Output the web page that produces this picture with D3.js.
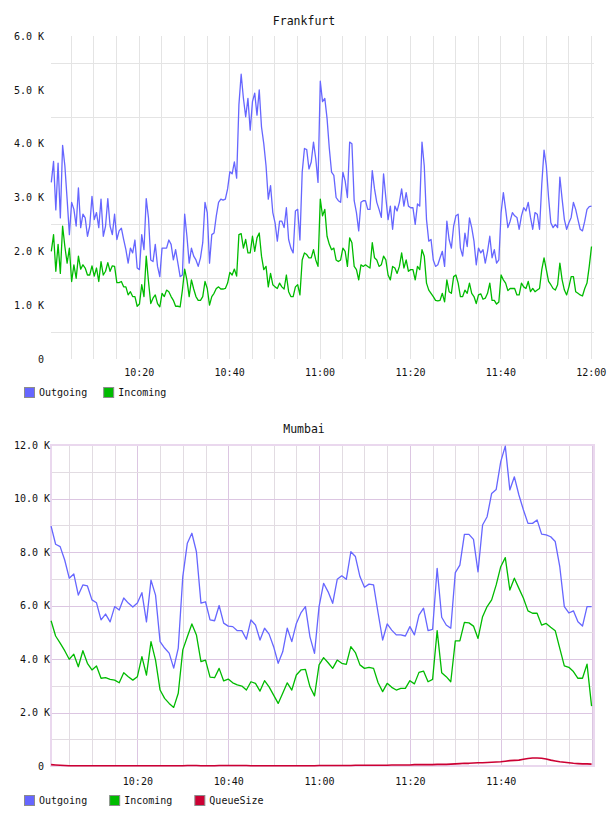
<!DOCTYPE html>
<html>
<head>
<meta charset="utf-8">
<script src="https://cdn.jsdelivr.net/npm/d3@7"></script>
<style>
body { margin: 0; background: #fff; }
text { font-family: "DejaVu Sans Mono", monospace; font-size: 10px; fill: #111; }
.title { font-size: 11.5px; }
</style>
</head>
<body>
<script>
// values are in thousands (K)
var fraStart = "10:00:40", fraStepSec = 30;
var fraOutgoing = [
  3.28, 3.67, 2.77, 3.64, 2.62, 3.97, 3.59, 2.97, 2.31, 2.91, 2.78, 2.47, 3.18, 2.44, 2.69, 2.62, 2.28, 2.47, 3.02, 2.59,
  2.72, 2.44, 2.97, 2.28, 2.47, 2.98, 2.47, 2.31, 2.69, 2.22, 2.38, 2.43, 2.22, 2.03, 1.78, 2.06, 1.97, 2.21, 1.69, 1.66,
  2.31, 2.03, 2.98, 2.62, 1.84, 1.81, 2.13, 1.72, 1.53, 2.06, 2.06, 2.06, 2.21, 2.13, 1.84, 2.03, 1.78, 1.53, 1.56, 2.69,
  2.28, 1.78,
  2.06, 1.91, 1.84, 1.72, 1.88, 2.16, 2.91, 2.72, 1.78, 2.31, 2.34, 2.66, 2.91, 2.97, 2.95, 2.97, 3.16, 3.48, 3.44, 3.66,
  3.36, 4.72, 5.29, 4.84, 4.5, 4.84, 4.25, 4.78, 4.94, 4.53, 5.0, 4.31, 4.0, 3.59, 2.97, 3.22, 2.72, 2.53, 2.19, 2.56,
  2.56, 2.44, 2.81, 2.22, 2.06, 1.97, 2.75, 2.78, 2.21, 3.47, 3.91, 3.89, 3.53, 3.66, 4.03, 3.72, 3.28, 5.16, 4.78, 4.84,
  4.47,
  3.91, 3.47, 3.41, 3.0, 2.94, 2.91, 3.47, 3.31, 3.0, 4.03, 4.0, 2.94, 2.72, 2.38, 2.91, 2.94, 2.94, 2.78, 2.78, 3.5,
  3.16, 2.91, 2.78, 2.63, 3.44, 3.0, 2.59, 2.84, 2.41, 2.84, 2.75, 2.91, 3.16, 2.84, 3.09, 2.84, 2.81, 2.81, 2.5, 2.88,
  2.84, 4.03, 3.59, 2.59, 2.19, 2.22, 1.84, 1.72, 1.75, 1.88, 2.0, 1.72, 2.56, 2.22, 2.06, 2.47, 2.66, 2.69, 2.06, 1.91,
  2.34, 2.09, 2.62, 2.44, 2.19, 1.75, 2.06, 1.97, 2.03, 1.78, 2.0, 2.28, 1.88, 2.03, 1.78, 1.84, 2.72, 3.09, 2.78, 2.44,
  2.56, 2.72, 2.66, 2.63, 2.41, 2.66, 2.81, 2.75, 2.91, 2.63, 2.41, 2.72, 2.69, 2.41, 3.25, 3.88, 3.59, 3.0, 2.53, 2.44,
  2.5, 2.44, 3.38, 2.97, 2.59, 2.41, 2.53, 2.63, 2.91, 2.78, 2.59, 2.41, 2.38, 2.56, 2.78, 2.83, 2.84
];
var fraIncoming = [
  2.0, 2.31, 1.63, 2.13, 1.59, 2.47, 2.09, 1.78, 2.06, 1.44, 1.75, 1.5, 1.91, 1.67, 1.75, 1.69, 1.56, 1.56, 1.73, 1.54,
  1.69, 1.44, 1.81, 1.56, 1.63, 1.79, 1.63, 1.73, 1.72, 1.42, 1.42, 1.44, 1.34, 1.34, 1.19, 1.25, 1.16, 1.16, 0.98, 1.02,
  1.38, 1.16, 1.91, 1.44, 1.03, 1.13, 1.19, 1.03, 0.97, 1.22, 1.16, 1.28, 1.25, 1.16, 1.09, 0.98, 0.98, 0.97, 1.28, 1.67,
  1.47, 1.16,
  1.47, 1.30, 1.16, 1.09, 1.09, 1.16, 1.44, 1.31, 1.0, 1.16, 1.22, 1.31, 1.34, 1.30, 1.30, 1.31, 1.41, 1.61, 1.56, 1.67,
  1.54, 2.31, 2.33, 2.06, 2.22, 1.97, 1.97, 2.28, 2.0, 2.25, 2.34, 1.91, 1.66, 1.72, 1.34, 1.59, 1.38, 1.34, 1.31, 1.41,
  1.34, 1.30, 1.56, 1.25, 1.16, 1.16, 1.34, 1.38, 1.19, 1.84, 1.97, 1.94, 1.88, 1.88, 2.03, 1.84, 1.72, 2.97, 2.66, 2.78,
  2.28,
  2.13, 2.03, 2.06, 1.84, 1.81, 1.84, 2.06, 2.0, 1.72, 2.25, 2.16, 1.72, 1.66, 1.47, 1.75, 1.72, 1.75, 1.72, 1.69, 2.16,
  1.88, 1.84, 1.72, 1.75, 1.91, 1.84, 1.56, 1.47, 1.72, 1.69, 1.59, 1.72, 1.97, 1.69, 1.84, 1.63, 1.66, 1.66, 1.47, 1.72,
  1.66, 2.03, 1.91, 1.41, 1.28, 1.22, 1.16, 1.09, 1.08, 1.09, 1.22, 1.06, 1.47, 1.25, 1.22, 1.53, 1.56, 1.41, 1.16, 1.16,
  1.28, 1.22, 1.41, 1.22, 1.16, 1.03, 1.19, 1.21, 1.11, 1.13, 1.22, 1.41, 1.09, 1.09, 1.02, 1.06, 1.56, 1.47, 1.41, 1.27,
  1.31, 1.31, 1.31, 1.19, 1.19, 1.41, 1.34, 1.31, 1.44, 1.25, 1.31, 1.25, 1.28, 1.31, 1.66, 1.88, 1.66, 1.44, 1.38, 1.31,
  1.28, 1.38, 1.78, 1.47, 1.28, 1.19, 1.34, 1.53, 1.53, 1.25, 1.22, 1.19, 1.17, 1.31, 1.41, 1.72, 2.09
];

var mumStart = "10:01:00", mumStepSec = 60;
var mumOutgoing = [
  8.97, 8.29, 8.2, 7.7, 7.02, 7.18, 6.39, 6.77, 6.73, 6.21, 6.1, 5.46, 5.68, 5.39, 5.96, 5.83, 6.28, 6.09, 5.94, 6.09,
  6.48, 5.39, 6.95, 6.39, 4.65, 4.41, 4.22, 3.66, 4.41, 7.08, 8.33, 8.7, 8.01, 6.09, 6.14, 5.46, 5.43, 6.0, 5.34, 5.23,
  5.21, 5.06, 5.06, 4.74, 5.46, 5.27, 4.71, 5.15, 4.93, 4.46, 3.84, 4.27, 5.15, 4.65, 5.33, 5.72, 5.96, 4.83, 4.21, 5.96,
  6.83, 6.51, 6.08, 6.98, 7.11, 6.98, 8.01, 7.83, 7.08, 6.68, 6.8, 6.77, 5.72, 4.71, 5.31, 5.08, 4.9, 4.9, 4.86, 5.21,
  4.9, 5.64, 5.9, 5.06, 5.11, 7.39, 5.56, 5.27, 5.15, 7.23, 7.51, 8.66, 8.66, 8.47, 7.26, 9.01, 9.32, 10.19, 10.34, 11.38,
  11.96, 10.32, 10.81, 10.13, 9.57, 9.07, 9.07, 9.2, 8.67, 8.64, 8.57, 8.39, 7.45, 5.96, 5.72, 5.8, 5.39, 5.23, 5.96, 5.96
];
var mumIncoming = [
  5.43, 4.86, 4.59, 4.31, 3.99, 4.18, 3.71, 4.31, 3.84, 3.59, 3.74, 3.28, 3.3, 3.24, 3.21, 3.11, 3.49, 3.34, 3.21, 3.34,
  4.09, 3.4, 4.65, 3.96, 2.84, 2.53, 2.34, 2.19, 2.72, 4.34, 4.83, 5.31, 4.9, 3.9, 3.96, 3.32, 3.3, 3.65, 3.18, 3.25,
  3.11, 3.03, 2.99, 2.84, 3.15, 3.09, 2.8, 3.19, 2.96, 2.65, 2.34, 2.72, 3.11, 2.84, 3.4, 3.59, 3.61, 2.96, 2.62, 3.78,
  4.05, 3.86, 3.65, 3.96, 3.84, 3.8, 4.46, 4.24, 3.78, 3.65, 3.69, 3.65, 3.11, 2.78, 3.09, 2.94, 2.84, 2.9, 2.9, 3.19,
  3.07, 3.5, 3.55, 3.15, 3.24, 5.06, 3.49, 3.34, 3.15, 4.68, 4.68, 5.37, 5.35, 5.23, 4.77, 5.58, 5.96, 6.21, 6.77, 7.45,
  7.79, 6.58, 7.02, 6.64, 6.27, 5.8, 5.71, 5.71, 5.27, 5.33, 5.19, 5.06, 4.4, 3.74, 3.69, 3.53, 3.28, 3.28, 3.81, 2.24
];
var mumQueue = [
  0.05, 0.04, 0.03, 0.02, 0.01, 0.01, 0.01, 0.01, 0.01, 0.01, 0.01, 0.01, 0.01, 0.01, 0.01, 0.01, 0.01, 0.01, 0.01, 0.01,
  0.01, 0.01, 0.01, 0.01, 0.01, 0.01, 0.01, 0.01, 0.01, 0.01, 0.02, 0.02, 0.02, 0.01, 0.01, 0.01, 0.01, 0.02, 0.02, 0.02,
  0.02, 0.02, 0.02, 0.02, 0.01, 0.01, 0.01, 0.01, 0.01, 0.01, 0.01, 0.01, 0.01, 0.01, 0.01, 0.01, 0.01, 0.01, 0.01, 0.02,
  0.02, 0.02, 0.02, 0.02, 0.02, 0.02, 0.02, 0.03, 0.03, 0.03, 0.03, 0.03, 0.03, 0.03, 0.03, 0.04, 0.04, 0.04, 0.04, 0.04,
  0.05, 0.05, 0.05, 0.05, 0.05, 0.06, 0.06, 0.06, 0.07, 0.08, 0.09, 0.1, 0.1, 0.11, 0.12, 0.12, 0.13, 0.14, 0.15, 0.16,
  0.18, 0.2, 0.21, 0.22, 0.25, 0.28, 0.3, 0.3, 0.29, 0.26, 0.22, 0.19, 0.16, 0.14, 0.12, 0.1, 0.09, 0.08, 0.08, 0.07
];

var fraTicks = ["10:20", "10:40", "11:00", "11:20", "11:40", "12:00"];
var mumTicks = ["10:20", "10:40", "11:00", "11:20", "11:40"];
var fraYTicks = [0, 1, 2, 3, 4, 5, 6];
var mumYTicks = [0, 2, 4, 6, 8, 10, 12];

var parseHMS = d3.timeParse("%H:%M:%S");
var parseHM = d3.timeParse("%H:%M");

function series(start, stepSec, vals) {
    var t0 = parseHMS(start).getTime();
    return vals.map(function(v, i) { return {t: new Date(t0 + i * stepSec * 1000), v: v}; });
}

var svg = d3.select("body").append("svg")
    .attr("width", 608).attr("height", 816);

function drawChart(cfg) {
    var g = svg.append("g");
    var left = 51, right = 594;

    var x = d3.scaleTime().domain(cfg.xDomain.map(parseHMS)).range([left, right]);
    var y = d3.scaleLinear().domain([0, cfg.yMax]).range([cfg.bottom, cfg.top]);

    // vertical grid, every 5 minutes
    var minor = x.ticks(d3.timeMinute.every(5));
    g.append("g").selectAll("line").data(minor).enter()
        .append("line")
        .attr("x1", function(d) { return Math.round(x(d)) + 0.5; })
        .attr("x2", function(d) { return Math.round(x(d)) + 0.5; })
        .attr("y1", cfg.top).attr("y2", cfg.bottom)
        .attr("stroke", function(d) {
            return cfg.purple && d.getMinutes() % 20 == 0 ? cfg.majorColor : cfg.minorColor;
        });

    // horizontal grid
    var hlines = y.ticks(cfg.yMax * (cfg.purple ? 1 : 2));
    g.append("g").selectAll("line").data(hlines).enter()
        .append("line")
        .attr("x1", left).attr("x2", right)
        .attr("y1", function(d) { return Math.round(y(d)) + 0.5; })
        .attr("y2", function(d) { return Math.round(y(d)) + 0.5; })
        .attr("stroke", function(d) {
            var major = cfg.purple ? d % 2 == 0 : d % 1 == 0;
            if (major) return cfg.purple ? cfg.majorColor : "none";
            return cfg.minorColor;
        });

    if (cfg.purple) {
        g.append("rect")
            .attr("x", left).attr("y", cfg.top)
            .attr("width", right - left).attr("height", cfg.bottom - cfg.top)
            .attr("fill", "none").attr("stroke", "#ead8ee").attr("stroke-width", 2);
    }

    // lines
    var line = d3.line()
        .x(function(d) { return x(d.t); })
        .y(function(d) { return y(d.v); });

    cfg.series.forEach(function(s) {
        g.append("path")
            .datum(series(cfg.start, cfg.step, s.values))
            .attr("fill", "none")
            .attr("stroke", s.color)
            .attr("stroke-width", s.width || 1.3)
            .attr("stroke-linejoin", "round")
            .attr("d", line);
    });

    // y labels
    var yAxis = g.append("g")
        .attr("transform", "translate(" + cfg.labelEnd + ",0)")
        .call(d3.axisLeft(y).tickValues(cfg.yTicks).tickSize(0).tickPadding(0)
            .tickFormat(function(d) { return d == 0 ? "0" : d.toFixed(1) + " K"; }));
    yAxis.select(".domain").remove();
    yAxis.selectAll("text")
        .attr("x", function(d) { return d == 0 ? 44 - cfg.labelEnd : 0; })
        .style("font-family", "DejaVu Sans Mono").style("font-size", "10px").attr("fill", "#111");

    // x labels
    var xAxis = g.append("g")
        .attr("transform", "translate(0," + cfg.xLabelY + ")")
        .call(d3.axisBottom(x).tickValues(cfg.xTicks.map(function(s) {
            var p = parseHM(s), d0 = x.domain()[0];
            return new Date(d0.getFullYear(), d0.getMonth(), d0.getDate(), p.getHours(), p.getMinutes());
        })).tickSize(0).tickPadding(0).tickFormat(d3.timeFormat("%H:%M")));
    xAxis.select(".domain").remove();
    xAxis.selectAll("text")
        .style("font-family", "DejaVu Sans Mono").style("font-size", "10px").attr("fill", "#111");

    // title
    g.append("text").attr("class", "title")
        .attr("x", 304).attr("y", cfg.titleY)
        .attr("text-anchor", "middle")
        .text(cfg.title);

    // legend
    var lx = 24;
    cfg.series.forEach(function(s) {
        g.append("rect")
            .attr("x", lx + 0.5).attr("y", cfg.legendY + 0.5)
            .attr("width", 10).attr("height", 10)
            .attr("fill", s.swatch || s.color)
            .attr("stroke", "#8c8c8c");
        var t = g.append("text")
            .attr("x", lx + 15).attr("y", cfg.legendY + 9)
            .text(s.name);
        lx += 15 + t.node().getComputedTextLength() + cfg.legendGap;
    });
}

drawChart({
    title: "Frankfurt", titleY: 25,
    xDomain: ["10:00:36", "12:00:43"],
    start: fraStart, step: fraStepSec,
    yMax: 6, top: 36, bottom: 359,
    yTicks: fraYTicks, xTicks: fraTicks,
    labelEnd: 44, xLabelY: 369,
    purple: false, minorColor: "#e4e4e4",
    legendY: 387, legendGap: 16,
    series: [
        {name: "Outgoing", values: fraOutgoing, color: "#6666ff"},
        {name: "Incoming", values: fraIncoming, color: "#00bb00"}
    ]
});

drawChart({
    title: "Mumbai", titleY: 433,
    xDomain: ["10:00:59", "12:00:32"],
    start: mumStart, step: mumStepSec,
    yMax: 12, top: 445, bottom: 766,
    yTicks: mumYTicks, xTicks: mumTicks,
    labelEnd: 50, xLabelY: 778,
    purple: true, minorColor: "#e2dce2", majorColor: "#dcc6e2",
    legendY: 795, legendGap: 22,
    series: [
        {name: "Outgoing", values: mumOutgoing, color: "#6666ff"},
        {name: "Incoming", values: mumIncoming, color: "#00bb00"},
        {name: "QueueSize", values: mumQueue, color: "#cc0033", width: 1.6}
    ]
});
</script>
</body>
</html>
